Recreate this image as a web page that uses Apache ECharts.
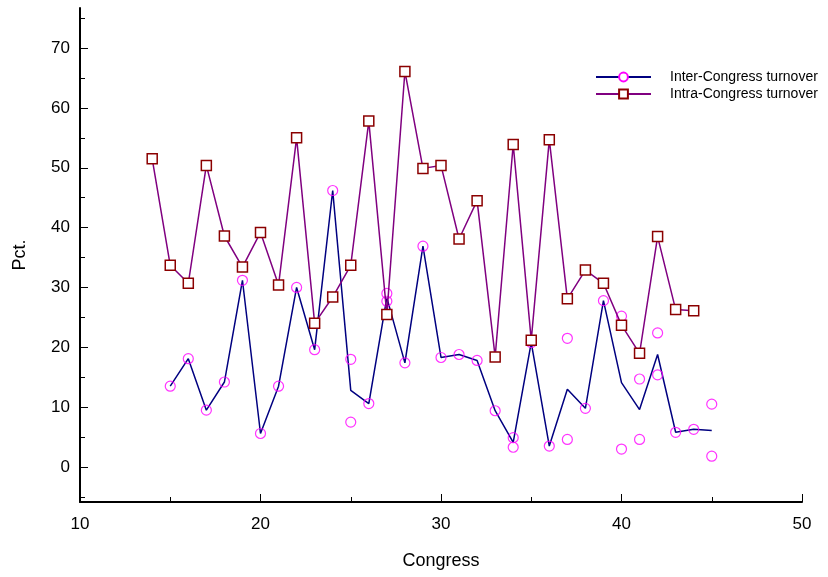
<!DOCTYPE html>
<html>
<head>
<meta charset="utf-8">
<script src="https://cdn.jsdelivr.net/npm/echarts@6/dist/echarts.min.js"></script>
<style>
  html, body { margin: 0; padding: 0; background: #fff; }
  #chart { width: 828px; height: 577px; }
</style>
</head>
<body>
<div id="chart"></div>
<script>
// intra-congress turnover, one value per congress (14th..44th)
const intraCongress = [14, 15, 16, 17, 18, 19, 20, 21, 22, 23, 24, 25, 26, 27, 28, 29, 30,
  31, 32, 33, 34, 35, 36, 37, 38, 39, 40, 41, 42, 43, 44];
const intraValues = [51.5, 33.7, 30.7, 50.4, 38.6, 33.4, 39.2, 30.4, 55.0, 24.0, 28.4, 33.7,
  57.8, 25.5, 66.1, 49.9, 50.4, 38.1, 44.5, 18.4, 53.9, 21.2, 54.7, 28.1, 32.9, 30.7, 23.7,
  19.0, 38.5, 26.3, 26.1];

// inter-congress turnover line (15th..45th)
const interCongress = [15, 16, 17, 18, 19, 20, 21, 22, 23, 24, 25, 26, 27, 28, 29, 30, 31,
  32, 33, 34, 35, 36, 37, 38, 39, 40, 41, 42, 43, 44, 45];
const interLine = [13.5, 18.1, 9.5, 14.2, 31.2, 5.6, 13.5, 30.0, 19.6, 46.2, 12.8, 10.6,
  28.3, 17.4, 36.9, 18.3, 18.8, 17.8, 9.4, 4.1, 20.8, 3.5, 13.0, 9.8, 27.8, 14.1, 9.6, 18.8,
  5.8, 6.3, 6.1];

// individual inter-congress observations (circles)
const interPointCongress = [15, 16, 17, 18, 19, 20, 21, 22, 23, 24, 25, 25, 26, 27, 27, 28,
  29, 30, 31, 32, 33, 34, 34, 35, 36, 37, 37, 38, 39, 40, 40, 41, 41, 42, 42, 43, 44, 45, 45];
const interPointValues = [13.5, 18.1, 9.5, 14.2, 31.2, 5.6, 13.5, 30.0, 19.6, 46.2, 18.0, 7.5,
  10.6, 29.0, 27.7, 17.4, 36.9, 18.3, 18.8, 17.8, 9.4, 4.9, 3.3, 20.8, 3.5, 21.5, 4.6, 9.8,
  27.8, 25.2, 3.0, 14.7, 4.6, 22.4, 15.4, 5.8, 6.3, 10.5, 1.8];

const yTicks = [0, 10, 20, 30, 40, 50, 60, 70];
const yMinorTicks = [-5, 5, 15, 25, 35, 45, 55, 65, 75];

const NAME_INTER = 'Inter-Congress turnover';
const NAME_INTRA = 'Intra-Congress turnover';
const FONT = '"Liberation Sans", Arial, sans-serif';

const Y_MIN = -5.85;
const Y_MAX = 76.7;

const chart = echarts.init(document.getElementById('chart'));

const zip = (xs, ys) => xs.map((x, i) => [x, ys[i]]);

chart.setOption({
  animation: false,
  backgroundColor: '#fff',
  textStyle: { fontFamily: FONT },
  grid: { left: 80, right: 26, top: 8, bottom: 75 },
  legend: {
    data: [NAME_INTER, NAME_INTRA],
    orient: 'vertical',
    left: 590,
    top: 65,
    itemWidth: 55,
    itemHeight: 11,
    itemGap: 3,
    textStyle: { fontFamily: FONT, fontSize: 14, color: '#000', padding: [0, 0, 0, 14] }
  },
  xAxis: {
    type: 'value',
    min: 10,
    max: 50,
    interval: 10,
    name: 'Congress',
    nameLocation: 'middle',
    nameGap: 50,
    nameTextStyle: { fontFamily: FONT, fontSize: 18, color: '#000' },
    axisLine: { onZero: false, lineStyle: { color: '#000', width: 2 } },
    axisTick: { inside: true, length: 8, lineStyle: { color: '#000', width: 1 } },
    minorTick: { show: true, splitNumber: 2, length: 5, lineStyle: { color: '#000', width: 1 } },
    axisLabel: { fontFamily: FONT, fontSize: 17, color: '#000', margin: 14 },
    splitLine: { show: false }
  },
  yAxis: [
    {
      type: 'value',
      min: Y_MIN,
      max: Y_MAX,
      name: 'Pct.',
      nameLocation: 'middle',
      nameGap: 51,
      nameRotate: 90,
      nameTextStyle: { fontFamily: FONT, fontSize: 18, color: '#000' },
      axisLine: { show: true, onZero: false, lineStyle: { color: '#000', width: 2 } },
      axisTick: { show: true, inside: true, length: 8, customValues: yTicks,
        lineStyle: { color: '#000', width: 1 } },
      axisLabel: { fontFamily: FONT, fontSize: 17, color: '#000', margin: 10, customValues: yTicks },
      splitLine: { show: false }
    },
    {
      // minor ticks only
      type: 'value',
      position: 'left',
      min: Y_MIN,
      max: Y_MAX,
      axisLine: { show: false, onZero: false },
      axisTick: { show: true, inside: true, length: 5, customValues: yMinorTicks,
        lineStyle: { color: '#000', width: 1 } },
      axisLabel: { show: false },
      splitLine: { show: false }
    }
  ],
  series: [
    {
      name: NAME_INTER,
      type: 'line',
      data: zip(interCongress, interLine),
      symbol: 'circle',
      symbolSize: 10,
      showSymbol: false,
      lineStyle: { color: '#000080', width: 1.5 },
      itemStyle: { color: '#fff', borderColor: '#ff00ff', borderWidth: 1.2 },
      z: 2
    },
    {
      name: NAME_INTER,
      type: 'scatter',
      data: zip(interPointCongress, interPointValues),
      symbol: 'circle',
      symbolSize: 10,
      itemStyle: { color: 'transparent', borderColor: '#ff00ff', borderWidth: 1.2 },
      z: 3
    },
    {
      name: NAME_INTRA,
      type: 'line',
      data: zip(intraCongress, intraValues),
      symbol: 'rect',
      symbolSize: 10,
      showSymbol: true,
      lineStyle: { color: '#800080', width: 1.5 },
      itemStyle: { color: '#fff', borderColor: '#8b0000', borderWidth: 1.5 },
      z: 4
    }
  ]
});
</script>
</body>
</html>
